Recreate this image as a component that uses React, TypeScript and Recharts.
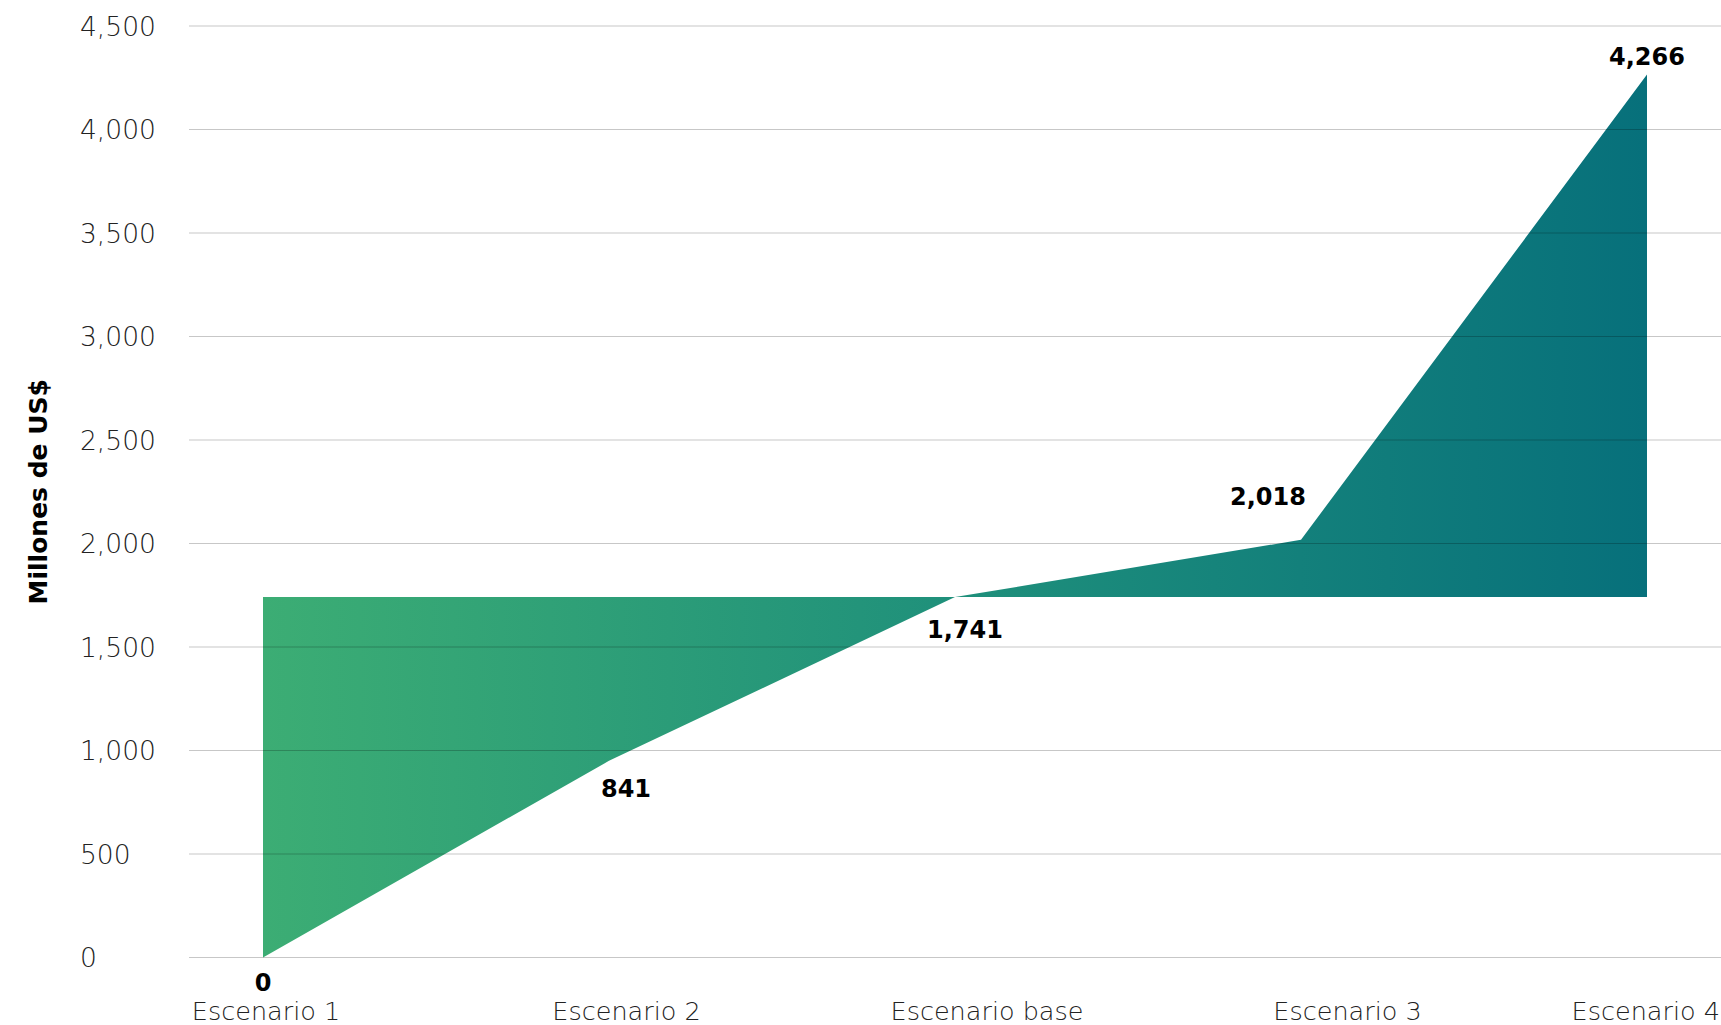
import React from "react";
import { Area, ComposedChart, LabelList, ReferenceLine, XAxis, YAxis } from "recharts";

const categories = ["Escenario 1", "Escenario 2", "Escenario base", "Escenario 3", "Escenario 4"];
// values as drawn by the shape (Escenario 2 kink sits a bit above its 841 label)
const lineValues = [0, 950, 1741, 2018, 4266];
const valueLabels = ["0", "841", "1,741", "2,018", "4,266"];
const baseValue = 1741;
const yTicks = [0, 500, 1000, 1500, 2000, 2500, 3000, 3500, 4000, 4500];

const data = categories.map((name, i) => ({
  name,
  value: lineValues[i],
  range: [baseValue, lineValues[i]]
}));

const font = '"DejaVu Sans", sans-serif';
const labelOffsets = [
  [0, 25],
  [17, 28],
  [10, 33],
  [-33, -43],
  [0, -17]
];

function ValueLabel(props: any) {
  const { x, y, index } = props;
  const [dx, dy] = labelOffsets[index];
  return (
    <text
      x={x + dx}
      y={y + dy}
      textAnchor="middle"
      dominantBaseline="central"
      fontFamily={font}
      fontWeight={700}
      fontSize={24}
      fill="#000"
    >
      {valueLabels[index]}
    </text>
  );
}

function YTick(props: any) {
  const { y, payload } = props;
  return (
    <text x={80} y={y} dominantBaseline="central" fontFamily={font} fontWeight={200} fontSize={26.5} fill="#222">
      {payload.value.toLocaleString("en-US")}
    </text>
  );
}

function XTick(props: any) {
  const { x, payload, index } = props;
  const last = index === categories.length - 1;
  return (
    <text
      x={last ? x + 12 : x}
      y={1011}
      textAnchor={last ? "end" : "middle"}
      dominantBaseline="central"
      fontFamily={font}
      fontWeight={200}
      fontSize={25.5}
      fill="#222"
    >
      {payload.value}
    </text>
  );
}

function YTitle(props: any) {
  const { viewBox } = props;
  const cx = viewBox.x + 38;
  const cy = viewBox.y + viewBox.height / 2;
  return (
    <text
      x={cx}
      y={cy}
      transform={`rotate(-90 ${cx} ${cy})`}
      textAnchor="middle"
      dominantBaseline="central"
      fontFamily={font}
      fontWeight={700}
      fontSize={25}
      fill="#000"
    >
      Millones de US$
    </text>
  );
}

export default function App() {
  return (
    <div>
      <style>{"html,body{margin:0;overflow:hidden}"}</style>
      <ComposedChart width={1721} height={1025} data={data} margin={{ top: 26, right: 0, bottom: 0, left: 0 }}>
        <defs>
          <linearGradient id="areaFill" x1="0" y1="0" x2="1" y2="0">
            <stop offset="0%" stopColor="#3cad74" />
            <stop offset="50%" stopColor="#1f907b" />
            <stop offset="100%" stopColor="#07707b" />
          </linearGradient>
        </defs>
        <XAxis xAxisId="data" dataKey="name" scale="point" padding={{ left: 74, right: 74 }} hide />
        <XAxis
          xAxisId="labels"
          dataKey="name"
          scale="point"
          padding={{ left: 77, right: 13 }}
          height={67.5}
          axisLine={false}
          tickLine={false}
          tickSize={0}
          tickMargin={0}
          interval={0}
          tick={<XTick />}
        />
        <YAxis
          width={189}
          domain={[0, 4500]}
          ticks={yTicks}
          axisLine={false}
          tickLine={false}
          tick={<YTick />}
          label={{ content: <YTitle /> }}
        />
        <Area
          xAxisId="labels"
          dataKey="value"
          stroke="none"
          fill="none"
          isAnimationActive={false}
          dot={false}
          activeDot={false}
        />
        <Area
          xAxisId="data"
          dataKey="range"
          type="linear"
          stroke="none"
          fill="url(#areaFill)"
          fillOpacity={1}
          isAnimationActive={false}
          dot={false}
          activeDot={false}
        >
          <LabelList dataKey="value" content={<ValueLabel />} />
        </Area>
        {yTicks.map((t) => (
          <ReferenceLine key={t} xAxisId="data" y={t} stroke="#000" strokeOpacity={0.22} strokeWidth={1} />
        ))}
      </ComposedChart>
    </div>
  );
}
